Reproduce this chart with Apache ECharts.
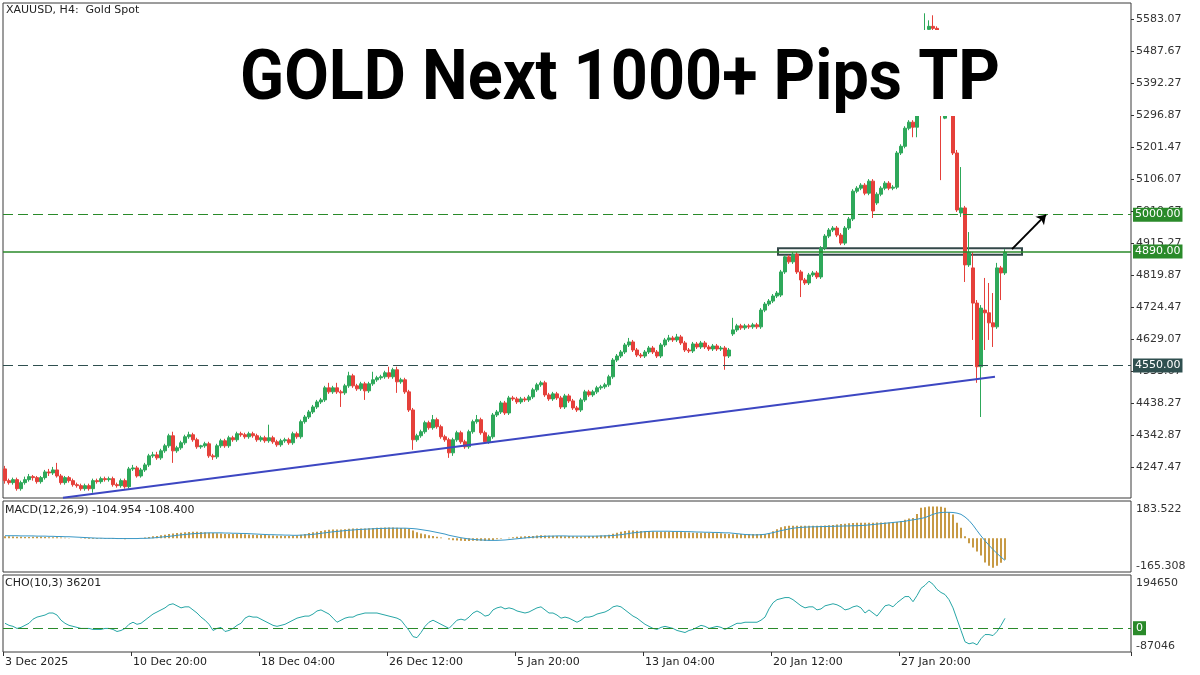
<!DOCTYPE html>
<html>
<head>
<meta charset="utf-8">
<script src="https://cdn.jsdelivr.net/npm/echarts@6/dist/echarts.min.js"></script>
<style>
  html, body { margin: 0; padding: 0; background: #fff; }
  #chart { width: 1200px; height: 675px; }
</style>
</head>
<body>
<div id="chart"></div>
<script>
// XAUUSD H4 candles, [open, close, low, high]
const candles = [
  [4241,4206,4197,4250],[4206,4200,4194,4212],[4200,4209,4194,4215],[4209,4182,4176,4215],[4182,4200,4176,4206],
  [4200,4209,4194,4218],[4209,4218,4203,4226],[4218,4215,4206,4223],[4215,4203,4197,4220],[4203,4215,4197,4220],
  [4215,4232,4209,4238],[4232,4229,4220,4241],[4229,4238,4223,4247],[4238,4220,4215,4259],[4220,4200,4194,4226],
  [4200,4215,4194,4220],[4215,4206,4200,4220],[4206,4194,4188,4212],[4194,4191,4185,4200],[4191,4182,4176,4197],
  [4182,4191,4176,4197],[4191,4182,4176,4197],[4182,4206,4170,4212],[4206,4203,4197,4212],[4203,4212,4197,4218],
  [4212,4209,4203,4218],[4209,4212,4203,4218],[4212,4194,4188,4218],[4194,4191,4185,4200],[4191,4206,4185,4212],
  [4206,4188,4182,4212],[4188,4241,4182,4247],[4241,4244,4235,4253],[4244,4220,4215,4250],[4220,4238,4215,4244],
  [4238,4253,4232,4259],[4253,4280,4247,4286],[4280,4283,4274,4292],[4283,4274,4268,4292],[4274,4295,4268,4301],
  [4295,4310,4289,4316],[4310,4340,4304,4346],[4340,4295,4259,4352],[4295,4304,4289,4310],[4304,4319,4298,4325],
  [4319,4337,4313,4343],[4337,4343,4331,4352],[4343,4328,4322,4349],[4328,4307,4301,4334],[4307,4310,4301,4313],
  [4310,4316,4304,4322],[4316,4280,4274,4322],[4280,4277,4268,4286],[4277,4310,4271,4316],[4310,4325,4304,4331],
  [4325,4310,4304,4331],[4310,4334,4304,4340],[4334,4328,4322,4340],[4328,4346,4322,4352],[4346,4343,4337,4352],
  [4343,4337,4331,4349],[4337,4346,4331,4352],[4346,4340,4334,4352],[4340,4328,4322,4346],[4328,4334,4322,4340],
  [4334,4325,4319,4340],[4325,4334,4319,4373],[4334,4322,4316,4340],[4322,4313,4307,4328],[4313,4325,4307,4331],
  [4325,4328,4319,4334],[4328,4319,4313,4334],[4319,4346,4313,4352],[4346,4337,4331,4352],[4337,4382,4331,4388],
  [4382,4396,4376,4402],[4396,4411,4390,4417],[4411,4426,4405,4432],[4426,4441,4420,4447],[4441,4447,4435,4453],
  [4447,4483,4441,4489],[4483,4471,4465,4498],[4471,4483,4465,4489],[4483,4471,4465,4498],[4471,4468,4426,4477],
  [4468,4489,4462,4495],[4489,4519,4483,4531],[4519,4489,4483,4525],[4489,4480,4474,4495],[4480,4495,4474,4501],
  [4495,4474,4447,4501],[4474,4495,4468,4501],[4495,4507,4489,4531],[4507,4513,4501,4519],[4513,4516,4507,4522],
  [4516,4528,4510,4534],[4528,4516,4510,4546],[4516,4537,4510,4543],[4537,4501,4468,4546],[4501,4507,4495,4513],
  [4507,4471,4465,4513],[4471,4417,4411,4477],[4417,4328,4298,4423],[4328,4340,4322,4346],[4340,4352,4334,4358],
  [4352,4379,4346,4385],[4379,4364,4358,4385],[4364,4388,4358,4402],[4388,4367,4361,4394],[4367,4337,4331,4373],
  [4337,4328,4322,4343],[4328,4289,4274,4334],[4289,4328,4280,4334],[4328,4349,4322,4355],[4349,4322,4316,4355],
  [4322,4307,4301,4328],[4307,4352,4301,4358],[4352,4382,4346,4388],[4382,4388,4376,4402],[4388,4349,4343,4394],
  [4349,4322,4316,4355],[4322,4337,4316,4343],[4337,4402,4331,4408],[4402,4411,4396,4417],[4411,4438,4405,4444],
  [4438,4408,4402,4444],[4408,4453,4402,4459],[4453,4450,4444,4459],[4450,4441,4435,4456],[4441,4450,4435,4456],
  [4450,4447,4441,4456],[4447,4456,4441,4462],[4456,4477,4450,4483],[4477,4492,4471,4498],[4492,4498,4486,4504],
  [4498,4462,4456,4504],[4462,4450,4444,4468],[4450,4465,4444,4471],[4465,4453,4447,4471],[4453,4426,4420,4459],
  [4426,4459,4420,4465],[4459,4444,4438,4465],[4444,4423,4417,4450],[4423,4417,4411,4429],[4417,4447,4411,4453],
  [4447,4471,4441,4477],[4471,4462,4456,4477],[4462,4471,4456,4477],[4471,4483,4465,4489],[4483,4486,4477,4492],
  [4486,4492,4480,4498],[4492,4516,4486,4522],[4516,4566,4510,4572],[4566,4578,4560,4584],[4578,4590,4572,4596],
  [4590,4611,4584,4617],[4611,4620,4605,4632],[4620,4596,4590,4626],[4596,4581,4575,4602],[4581,4578,4572,4587],
  [4578,4590,4572,4596],[4590,4602,4584,4608],[4602,4590,4584,4608],[4590,4578,4572,4596],[4578,4611,4572,4617],
  [4611,4626,4605,4632],[4626,4632,4620,4641],[4632,4626,4620,4638],[4626,4635,4620,4644],[4635,4617,4611,4641],
  [4617,4596,4590,4623],[4596,4593,4587,4602],[4593,4614,4587,4620],[4614,4605,4599,4620],[4605,4617,4599,4623],
  [4617,4605,4599,4623],[4605,4599,4593,4611],[4599,4608,4593,4614],[4608,4599,4593,4614],[4599,4602,4593,4608],
  [4602,4578,4537,4608],[4578,4596,4572,4602],[4644,4656,4638,4692],[4656,4668,4650,4674],[4668,4662,4656,4674],
  [4662,4668,4656,4674],[4668,4665,4659,4674],[4665,4671,4659,4677],[4671,4665,4659,4677],[4665,4715,4659,4721],
  [4715,4733,4709,4739],[4733,4742,4727,4748],[4742,4757,4736,4763],[4757,4766,4751,4772],[4760,4829,4754,4835],
  [4829,4874,4823,4880],[4874,4859,4853,4880],[4859,4882,4853,4888],[4882,4829,4823,4888],[4829,4805,4754,4835],
  [4805,4796,4790,4811],[4796,4820,4790,4826],[4820,4826,4814,4832],[4826,4814,4808,4832],[4814,4900,4808,4906],
  [4900,4936,4894,4942],[4936,4954,4930,4960],[4954,4960,4948,4966],[4960,4939,4933,4966],[4939,4915,4909,4945],
  [4915,4960,4909,4966],[4960,4987,4954,4993],[4987,5070,4981,5076],[5070,5079,5064,5085],[5079,5088,5073,5094],
  [5088,5064,5058,5094],[5064,5100,5058,5106],[5100,5011,4990,5106],[5035,5061,5029,5067],[5061,5079,5055,5085],
  [5079,5094,5073,5100],[5094,5079,5073,5100],[5079,5082,5073,5088],[5082,5184,5076,5190],[5184,5204,5178,5210],
  [5204,5258,5198,5264],[5258,5276,5252,5282],[5276,5261,5231,5282],[5261,5327,5231,5342],[5327,5431,5321,5446],
  [5431,5544,5425,5601],[5553,5562,5506,5580],[5562,5556,5461,5595],[5556,5461,5416,5562],[5461,5342,5103,5476],
  [5288,5401,5285,5461],[5401,5371,5312,5431],[5371,5184,5178,5386],[5184,5014,5008,5193],[5005,5020,4993,5142],
  [5020,4850,4799,5026],[4850,4888,4844,4948],[4841,4736,4626,4888],[4736,4546,4498,4745],[4546,4721,4396,4730],
  [4715,4707,4596,4811],[4707,4677,4626,4796],[4677,4665,4605,4766],[4665,4841,4659,4856],[4841,4826,4745,4847],
  [4826,4888,4820,4897]
];

// MACD(12,26,9): main (histogram) and signal
const macdMain = [
  10,10,9,8,8,7,7,8,8,8,7,
  6,5,5,4,3,2,1,0,-1,-2,-3,-3,-3,-2,-2,
  -2,-3,-3,-3,-4,-2,0,1,2,4,7,10,
  12,15,18,22,24,26,28,30,
  31,32,32,31,30,28,26,
  25,24,22,22,21,21,21,20,
  19,18,17,16,16,15,14,13,13,12,12,13,
  14,18,22,26,30,33,36,40,42,43,44,44,45,
  47,48,48,49,49,50,51,52,52,53,53,53,52,51,50,
  46,38,30,24,20,15,12,8,4,0,
  -6,-9,-11,-12,-13,-13,-12,-12,-12,-13,-12,-9,
  -5,-2,1,3,5,8,9,10,11,12,14,15,14,
  13,13,12,11,10,11,10,9,9,10,11,12,13,14,15,
  18,23,28,32,36,38,38,37,36,35,
  35,34,33,33,33,33,33,32,31,30,29,28,28,27,27,26,26,25,25,23,22,
  20,20,21,21,21,21,21,21,22,
  25,35,45,55,60,62,62,62,62,62,62,62,62,
  62,63,64,66,68,70,72,74,76,77,77,77,77,77,78,78,78,78,79,80,85,92,
  98,100,120,150,153,156,157,156,155,150,
  130,117,77,52,10,-24,-45,-65,-84,-119,-135,-145,-135,-120,-104.954
];
const macdSignal = [
  13,13,13,13,12,12,12,12,11,11,11,10,10,9,9,8,8,7,6,5,4,
  3,2,1,1,0,0,0,-1,-1,-1,-1,-1,-1,0,0,1,2,
  4,6,8,10,12,15,17,19,21,23,24,25,26,
  27,27,27,27,26,26,25,25,24,24,
  23,22,21,20,19,18,18,17,17,16,16,15,
  15,16,17,18,20,22,25,27,30,32,34,36,38,
  40,41,43,44,45,46,47,48,49,49,50,50,50,50,50,
  49,48,46,43,40,37,33,29,25,21,
  15,11,7,3,0,-3,-5,-7,-8,-9,-10,-10,
  -10,-9,-8,-6,-4,-2,0,2,4,6,7,9,10,
  11,11,12,12,12,11,11,11,11,11,11,11,11,12,12,
  13,14,16,18,21,24,27,29,31,33,
  34,35,35,35,35,35,34,34,34,33,33,32,31,31,30,30,29,29,28,27,27,
  25,23,21,19,18,17,17,18,20,
  24,28,33,38,42,46,50,52,54,55,56,57,57,
  58,58,59,59,60,60,61,61,62,62,63,64,66,68,70,72,74,76,78,80,82,84,
  88,91,94,98,
  102,110,118,124,127,128,128,127,124,118,105,88,65,38,12,-12,-34,-55,-74,-92,-108.4
];

// CHO(10,3)
const cho = [
  18000,10500,6800,-800,3000,10500,18000,33000,40600,44300,
  48100,55600,55600,48100,29300,18000,10500,6800,3000,-800,
  -800,-800,-4500,-4500,-4500,-800,-800,-4500,-12000,-8300,
  -800,14300,21800,14300,18000,29300,40600,51800,59300,66900,
  74400,85600,89400,81900,74400,78100,78100,66900,55600,40600,
  29300,14300,-8300,-800,3000,-12000,-8300,-800,10500,18000,
  36800,44300,40600,40600,33000,25500,18000,10500,6800,10500,
  14300,21800,29300,36800,40600,44300,44300,51800,63100,66900,
  59300,51800,36800,21800,29300,36800,40600,40600,48100,51800,
  55600,55600,55600,55600,51800,48100,44300,40600,36800,29300,
  10500,-8300,-30800,-34500,-15800,6800,21800,29300,21800,14300,
  6800,-800,14300,29300,33000,29300,40600,55600,63100,55600,
  44300,48100,66900,74400,78100,70600,74400,70600,63100,59300,
  55600,59300,66900,74400,78100,66900,55600,55600,48100,36800,
  40600,36800,29300,21800,29300,40600,40600,44300,51800,55600,
  59300,66900,78100,81900,78100,66900,55600,44300,36800,25500,
  14300,6800,-800,-4500,3000,6800,3000,-800,-8300,-12000,
  -15800,-8300,-4500,3000,10500,6800,-800,3000,6800,3000,
  -4500,3000,10500,18000,18000,21800,21800,21800,21800,29300,
  40600,70600,93100,104400,108200,112000,112000,104400,93100,81900,
  74400,78100,78100,66900,70600,81900,85600,89400,85600,78100,
  66900,70600,78100,81900,74400,55600,66900,55600,44300,63100,
  81900,85600,78100,93100,104400,115700,115700,96900,119400,145700,
  157000,172000,160800,142000,130700,123200,104400,74400,33000,-8300,
  -49600,-57100,-53300,-60800,-38300,-23300,-23300,-27000,-12000,10500,
  36201
];

const priceTicks = [5583.07, 5487.67, 5392.27, 5296.87, 5201.47, 5106.07, 5010.67, 4915.27,
  4819.87, 4724.47, 4629.07, 4533.67, 4438.27, 4342.87, 4247.47];
const priceRange = [4154.2, 5631.7];
const macdRange = [-165.308, 183.522];
const choRange = [-87046, 194650];
const xLabels = ['3 Dec 2025', '10 Dec 20:00', '18 Dec 04:00', '26 Dec 12:00',
  '5 Jan 20:00', '13 Jan 04:00', '20 Jan 12:00', '27 Jan 20:00'];
const levelPrices = [5000, 4890, 4550];
const levelLabels = ['5000.00', '4890.00', '4550.00'];
// annotations in (bar index, price)
const trendLine = [[14.5, 4155], [247.5, 4516]];
const breakoutBox = [[193.25, 4900], [254.25, 4880]];
const targetArrow = [[251.75, 4897], [260.25, 5000]];

const SLOTS = 282; // bars plus right-hand shift area
const slots = Array.from({ length: SLOTS }, (_, i) => i);
const FONT = 'DejaVu Sans';
const BORDER = '#3a3a3a';
const GREEN = '#2a8a2a';
const SLATE = '#2f4f4f';

const chart = echarts.init(document.getElementById('chart'), null, { renderer: 'canvas' });

const catAxis = (gridIndex) => ({
  type: 'category', gridIndex, data: slots, boundaryGap: true,
  axisLine: { show: false, onZero: false }, axisTick: { show: false }, axisLabel: { show: false },
});
const showAt = (i) => i % 32 === 0 && i < candles.length;

const subAxis = (gridIndex, range, which) => ({
  type: 'value', gridIndex, position: 'right', min: range[0], max: range[1],
  splitLine: { show: false }, axisLine: { show: false, onZero: false }, axisTick: { show: false },
  axisLabel: {
    customValues: [which === 'top' ? range[1] : range[0]],
    verticalAlign: which === 'top' ? 'top' : 'bottom',
    padding: which === 'top' ? [3, 0, 0, 0] : [0, 0, 0, 0],
    formatter: (v) => String(v),
    margin: 5, color: '#333', fontFamily: FONT, fontSize: 11,
  },
});

const levelStyles = [
  { color: GREEN, type: [10, 5], width: 1 },
  { color: GREEN, type: 'solid', width: 1.5 },
  { color: SLATE, type: [10, 5], width: 1 },
];

chart.setOption({
  animation: false,
  backgroundColor: '#fff',
  grid: [
    { left: 3, top: 3, width: 1128, height: 495 },
    { left: 3, top: 501, width: 1128, height: 71 },
    { left: 3, top: 575, width: 1128, height: 77 },
  ].map((g) => Object.assign(g, { show: true, borderColor: BORDER, borderWidth: 1, backgroundColor: '#fff', outerBoundsMode: 'none', containLabel: false })),
  xAxis: [
    catAxis(0),
    catAxis(1),
    Object.assign(catAxis(2), {
      axisTick: { show: true, interval: showAt, length: 4, lineStyle: { color: '#333' } },
      axisLabel: {
        show: true, interval: showAt, align: 'left', margin: 5,
        formatter: (v, i) => xLabels[i / 32] || '',
        color: '#222', fontFamily: FONT, fontSize: 11,
      },
    }),
    { type: 'value', gridIndex: 0, min: -0.5, max: SLOTS - 0.5, show: false, axisLine: { onZero: false } },
  ],
  yAxis: [
    {
      type: 'value', gridIndex: 0, position: 'right', min: priceRange[0], max: priceRange[1],
      splitLine: { show: false }, axisLine: { show: false, onZero: false },
      axisTick: { show: true, customValues: priceTicks, length: 3, lineStyle: { color: '#333' } },
      axisLabel: {
        customValues: priceTicks, formatter: (v) => v.toFixed(2),
        margin: 5, color: '#333', fontFamily: FONT, fontSize: 11,
      },
    },
    subAxis(1, macdRange, 'top'),
    subAxis(1, macdRange, 'bottom'),
    subAxis(2, choRange, 'top'),
    subAxis(2, choRange, 'bottom'),
  ],
  series: [
    {
      type: 'candlestick', xAxisIndex: 0, yAxisIndex: 0, data: candles, barWidth: 3,
      itemStyle: { color: '#2ea85a', color0: '#e5403a', borderColor: '#2ea85a', borderColor0: '#e5403a', borderWidth: 1 },
      markLine: {
        silent: true, symbol: 'none',
        label: {
          show: true, position: 'end', distance: 2, color: '#fff',
          fontFamily: FONT, fontSize: 11, padding: [2, 2, 1, 2],
        },
        data: levelPrices.map((p, k) => ({
          yAxis: p,
          lineStyle: levelStyles[k],
          label: { formatter: levelLabels[k], backgroundColor: k === 2 ? SLATE : GREEN },
        })),
      },
    },
    {
      type: 'line', xAxisIndex: 3, yAxisIndex: 0, data: trendLine, symbol: 'none',
      lineStyle: { color: '#3d47c2', width: 2 }, z: 4,
      markArea: {
        silent: true,
        itemStyle: { color: 'rgba(0,0,0,0)', borderColor: '#34484a', borderWidth: 2 },
        data: [[{ coord: breakoutBox[0] }, { coord: breakoutBox[1] }]],
      },
      markLine: {
        silent: true, symbol: ['none', 'arrow'], symbolSize: 9,
        label: { show: false },
        lineStyle: { color: '#000', width: 2, type: 'solid' },
        data: [[{ coord: targetArrow[0] }, { coord: targetArrow[1] }]],
      },
    },
    {
      type: 'bar', xAxisIndex: 1, yAxisIndex: 1, data: macdMain, barWidth: 2,
      itemStyle: { color: '#c79a45', borderWidth: 0 },
    },
    {
      type: 'line', xAxisIndex: 1, yAxisIndex: 1, data: macdSignal, symbol: 'none',
      lineStyle: { color: '#3a98c6', width: 1 },
    },
    {
      type: 'line', xAxisIndex: 2, yAxisIndex: 3, data: cho, symbol: 'none',
      lineStyle: { color: '#26a6a6', width: 1 },
      markLine: {
        silent: true, symbol: 'none',
        lineStyle: { color: GREEN, type: [10, 5], width: 1 },
        label: {
          show: true, position: 'end', distance: 2, formatter: '0', color: '#fff',
          backgroundColor: GREEN, fontFamily: FONT, fontSize: 11, padding: [2, 3, 1, 3],
        },
        data: [{ yAxis: 0 }],
      },
    },
  ],
  graphic: [
    { type: 'rect', shape: { x: 236, y: 30, width: 772, height: 86 }, style: { fill: '#fff' }, z: 50, silent: true },
    {
      type: 'text', x: 240, y: 81, scaleX: 0.925, z: 51, silent: true,
      style: { text: 'GOLD Next 1000+ Pips TP', fill: '#000', fontFamily: 'Roboto', fontWeight: 'bold', fontSize: 70, verticalAlign: 'middle' },
    },
    { type: 'text', x: 6, y: 5, z: 51, silent: true, style: { text: 'XAUUSD, H4:  Gold Spot', fill: '#222', fontFamily: FONT, fontSize: 11 } },
    { type: 'text', x: 5, y: 505, z: 51, silent: true, style: { text: 'MACD(12,26,9) -104.954 -108.400', fill: '#222', fontFamily: FONT, fontSize: 11 } },
    { type: 'text', x: 5, y: 578, z: 51, silent: true, style: { text: 'CHO(10,3) 36201', fill: '#222', fontFamily: FONT, fontSize: 11 } },
  ],
});
</script>
</body>
</html>
